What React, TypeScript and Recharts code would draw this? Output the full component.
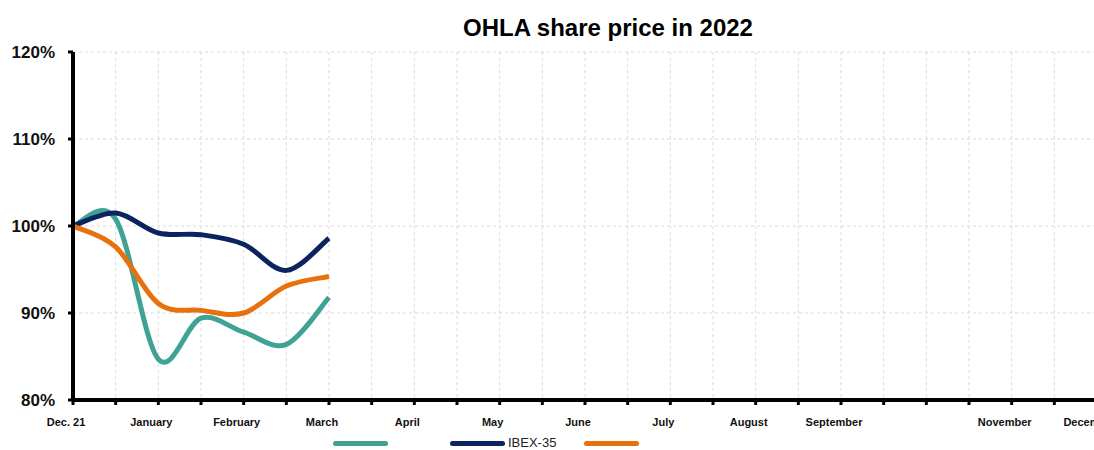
import { LineChart, Line, XAxis, YAxis, CartesianGrid, Legend } from "recharts";

// half-month steps from Dec. 21 to Dec. 22, labels only on every other step
const periods = [
    "Dec. 21", "", "January", "", "February", "", "March", "", "April", "",
    "May", "", "June", "", "July", "", "August", "", "September", "",
    "", "", "November", "", "December",
];

// share price relative to Dec. 21 (= 100%)
const ohlaValues = [100, 100.8, 84.7, 89.4, 87.8, 86.4, 91.8];
const ibexValues = [100, 101.5, 99.2, 99.0, 97.9, 94.9, 98.6];
const sectorValues = [100, 97.6, 91.1, 90.3, 90.0, 93.1, 94.2];

const yTicks = [80, 90, 100, 110, 120];

const chartData = periods.map((label, i) => ({
    idx: i,
    label,
    ohla: ohlaValues[i] ?? null,
    ibex: ibexValues[i] ?? null,
    sector: sectorValues[i] ?? null,
}));

const FONT = "'Liberation Sans', Arial, sans-serif";

// spreadsheet-style smoothed line (Catmull-Rom through the points)
const smoothCurve = (context: any) => {
    let pts: number[][] = [];
    return {
        areaStart() {},
        areaEnd() {},
        lineStart() {
            pts = [];
        },
        point(x: number, y: number) {
            pts.push([+x, +y]);
        },
        lineEnd() {
            if (!pts.length) return;
            context.moveTo(pts[0][0], pts[0][1]);
            for (let i = 0; i < pts.length - 1; i++) {
                const p0 = pts[i - 1] || pts[i];
                const p1 = pts[i];
                const p2 = pts[i + 1];
                const p3 = pts[i + 2] || p2;
                context.bezierCurveTo(
                    p1[0] + (p2[0] - p0[0]) / 6,
                    p1[1] + (p2[1] - p0[1]) / 6,
                    p2[0] - (p3[0] - p1[0]) / 6,
                    p2[1] - (p3[1] - p1[1]) / 6,
                    p2[0],
                    p2[1]
                );
            }
        },
    };
};

const XTick = ({ x, y, payload }: any) => (
    <text
        x={x - 7}
        y={y}
        dy={19}
        textAnchor="middle"
        fontFamily={FONT}
        fontWeight="bold"
        fontSize={11}
        fill="#111"
    >
        {periods[payload.value]}
    </text>
);

const YTick = ({ x, y, payload }: any) => (
    <text
        x={x - 11}
        y={y}
        dy={6}
        textAnchor="end"
        fontFamily={FONT}
        fontWeight="bold"
        fontSize={17}
        fill="#111"
    >
        {payload.value}%
    </text>
);

const legendOrder = ["ohla", "ibex", "sector"];
const legendGap: Record<string, number> = { ohla: 62, ibex: 28, sector: 0 };

const CustomLegend = ({ payload }: any) => {
    const items = [...(payload || [])].sort(
        (a: any, b: any) => legendOrder.indexOf(a.dataKey) - legendOrder.indexOf(b.dataKey)
    );
    return (
        <div style={{ display: "flex", alignItems: "center", paddingLeft: 333, height: 14 }}>
            {items.map((item: any) => (
                <div
                    key={item.dataKey}
                    style={{ display: "flex", alignItems: "center", marginRight: legendGap[item.dataKey] }}
                >
                    <span
                        style={{
                            display: "inline-block",
                            width: 55,
                            height: 5,
                            borderRadius: 3,
                            background: item.color,
                        }}
                    />
                    {item.value ? (
                        <span
                            style={{
                                marginLeft: 3,
                                fontFamily: FONT,
                                fontSize: 13,
                                lineHeight: "14px",
                                color: "#222",
                            }}
                        >
                            {item.value}
                        </span>
                    ) : null}
                </div>
            ))}
        </div>
    );
};

export default function App() {
    return (
        <div
            style={{
                position: "absolute",
                left: 0,
                top: 0,
                width: 1094,
                height: 450,
                overflow: "hidden",
                background: "#fff",
            }}
        >
            <div
                style={{
                    position: "absolute",
                    left: 0,
                    width: 1216,
                    top: 14,
                    textAlign: "center",
                    fontFamily: FONT,
                    fontWeight: "bold",
                    fontSize: 24,
                    color: "#000",
                    zIndex: 2,
                }}
            >
                OHLA share price in 2022
            </div>
            <LineChart
                width={1100}
                height={450}
                data={chartData}
                margin={{ top: 52, right: 3, left: 0, bottom: 6 }}
            >
                <CartesianGrid
                    stroke="#d9d9d9"
                    strokeDasharray="3 3"
                    horizontalValues={yTicks}
                />
                <XAxis
                    dataKey="idx"
                    type="category"
                    interval={0}
                    height={30}
                    tick={<XTick />}
                    tickSize={5}
                    axisLine={{ stroke: "#000", strokeWidth: 4 }}
                    tickLine={{ stroke: "#000", strokeWidth: 3 }}
                />
                <YAxis
                    width={73}
                    domain={[80, 120]}
                    ticks={yTicks}
                    interval={0}
                    tick={<YTick />}
                    tickSize={5}
                    axisLine={{ stroke: "#000", strokeWidth: 4 }}
                    tickLine={{ stroke: "#000", strokeWidth: 3 }}
                />
                <Legend
                    layout="vertical"
                    align="center"
                    verticalAlign="bottom"
                    content={<CustomLegend />}
                    wrapperStyle={{ left: 0, top: 436, width: 1094, bottom: "auto" }}
                />
                <Line
                    type={smoothCurve as any}
                    dataKey="ohla"
                    name=""
                    stroke="#40a294"
                    strokeWidth={5}
                    dot={false}
                    activeDot={false}
                    isAnimationActive={false}
                />
                <Line
                    type={smoothCurve as any}
                    dataKey="ibex"
                    name="IBEX-35"
                    stroke="#0b2460"
                    strokeWidth={5}
                    dot={false}
                    activeDot={false}
                    isAnimationActive={false}
                />
                <Line
                    type={smoothCurve as any}
                    dataKey="sector"
                    name=""
                    stroke="#e8710e"
                    strokeWidth={5}
                    dot={false}
                    activeDot={false}
                    isAnimationActive={false}
                />
            </LineChart>
        </div>
    );
}
